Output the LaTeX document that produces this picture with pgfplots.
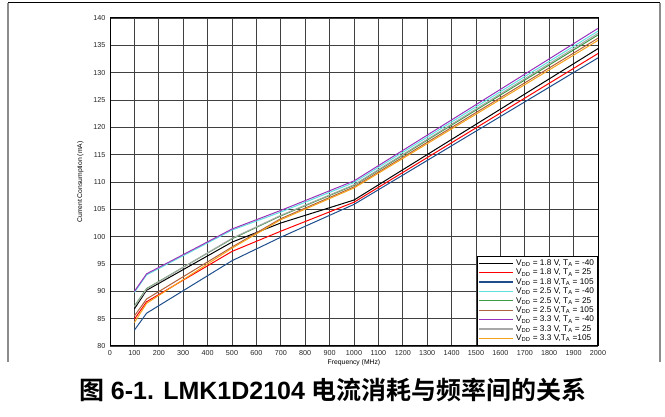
\documentclass[border=0pt]{standalone}
\usepackage{fontspec}
\setmainfont{Liberation Sans}
\newfontfamily\cjk{Noto Sans CJK SC}[BoldFont={* Bold}]
\usepackage{pgfplots}
\pgfplotsset{compat=1.18}
\definecolor{cBlue}{HTML}{1F4E8C}
\definecolor{cCyan}{HTML}{5FE0E0}
\definecolor{cGreen}{HTML}{3E9A45}
\definecolor{cBrown}{HTML}{B0603A}
\definecolor{cPurple}{HTML}{9933BB}
\definecolor{cGray}{HTML}{A8A8A8}
\definecolor{cOrange}{HTML}{F7A21B}
\begin{document}
\begin{tikzpicture}[x=1pt,y=1pt]
\useasboundingbox (0,0) rectangle (665,417);
\draw[black, line width=1pt] (8,414) -- (660,414);
\draw[black!45, line width=1.2pt] (8,414) -- (8,55);
\draw[black!45, line width=1.2pt] (660,414) -- (660,55);
\begin{axis}[
  at={(110pt,71pt)}, anchor=south west,
  scale only axis, width=488pt, height=328pt,
  xmin=0, xmax=2000, ymin=80, ymax=140,
  xtick={0,100,...,2000}, ytick={80,85,...,140},
  major tick length=0pt,
  grid=major,
  major grid style={black!75, line width=0.9pt},
  axis line style={black, line width=1pt},
  /pgf/number format/assume math mode=true,
  /pgf/number format/1000 sep={},
  ticklabel style={font=\fontsize{7.2}{7.5}\selectfont, text=black!85},
  xticklabel style={yshift=-1pt},
  yticklabel style={xshift=-1pt},
  xlabel={Frequency (MHz)},
  ylabel={Current Consumption (mA)},
  label style={font=\fontsize{6.8}{7}\selectfont},
  xlabel style={yshift=3pt},
  ylabel style={yshift=3pt},
  legend style={at={(1,0)}, anchor=south east, draw=black, line width=0.8pt,
    font=\fontsize{8.3}{9}\selectfont, row sep=-1.9pt, inner sep=1.5pt,
    cells={anchor=west}},
  legend image code/.code={\draw[#1, line width=1.2pt] (0pt,0pt) -- (34pt,0pt);},
  every axis plot/.append style={line width=1pt},
]
\addplot[color=black] coordinates {(100,86.8) (150,90.2) (500,99.0) (700,102.5) (1000,106.7) (2000,134.4)};
\addlegendentry{V\textsubscript{DD} = 1.8 V, T\textsubscript{A} = -40}
\addplot[color=red] coordinates {(100,84.9) (150,88.1) (500,97.3) (700,101.0) (1000,106.3) (2000,133.5)};
\addlegendentry{V\textsubscript{DD} = 1.8 V, T\textsubscript{A} = 25}
\addplot[color=cBlue] coordinates {(100,82.9) (150,86.0) (500,95.6) (700,99.9) (1000,105.9) (2000,132.7)};
\addlegendentry{V\textsubscript{DD} = 1.8 V,T\textsubscript{A} = 105}
\addplot[color=cCyan] coordinates {(100,89.8) (150,93.0) (500,101.2) (700,104.5) (1000,109.9) (2000,137.6)};
\addlegendentry{V\textsubscript{DD} = 2.5 V, T\textsubscript{A} = -40}
\addplot[color=cGreen] coordinates {(100,87.3) (150,90.5) (500,99.6) (700,103.8) (1000,109.4) (2000,136.9)};
\addlegendentry{V\textsubscript{DD} = 2.5 V, T\textsubscript{A} = 25}
\addplot[color=cBrown] coordinates {(100,85.5) (150,88.6) (500,98.1) (700,103.3) (1000,109.1) (2000,136.3)};
\addlegendentry{V\textsubscript{DD} = 2.5 V,T\textsubscript{A} = 105}
\addplot[color=cPurple] coordinates {(100,90.0) (150,93.2) (500,101.4) (700,104.8) (1000,110.2) (2000,138.1)};
\addlegendentry{V\textsubscript{DD} = 3.3 V, T\textsubscript{A} = -40}
\addplot[color=cGray] coordinates {(100,87.2) (150,90.4) (500,99.7) (700,103.9) (1000,109.5) (2000,137.2)};
\addlegendentry{V\textsubscript{DD} = 3.3 V, T\textsubscript{A} = 25}
\addplot[color=cOrange] coordinates {(100,84.3) (150,87.8) (500,97.9) (700,103.1) (1000,108.9) (2000,135.9)};
\addlegendentry{V\textsubscript{DD} = 3.3 V,T\textsubscript{A} =105}
\end{axis}
\node[font=\bfseries\fontsize{25}{28}\selectfont, anchor=base, inner sep=0pt] at (333,17) {{\cjk 图} 6-1. LMK1D2104 {\cjk 电流消耗与频率间的关系}};
\end{tikzpicture}
\end{document}
